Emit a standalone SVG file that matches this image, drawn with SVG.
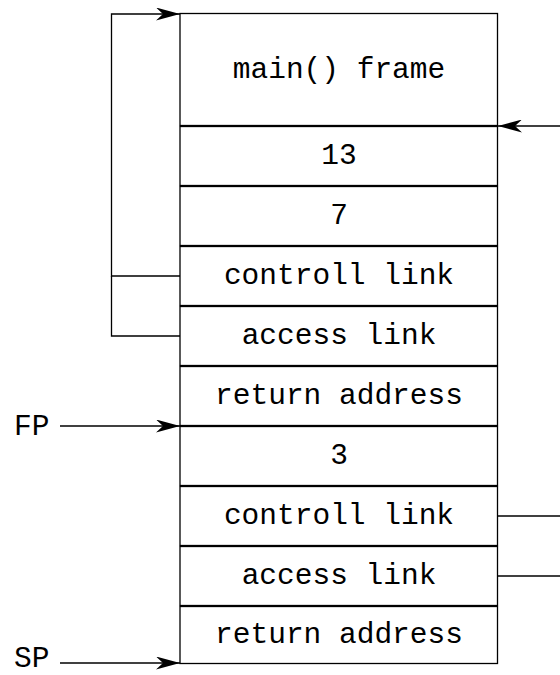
<svg xmlns="http://www.w3.org/2000/svg" width="560" height="675" viewBox="0 0 560 675">
<style>
.box{fill:#fff;stroke:#000;stroke-width:1.3}
.t{font-family:"Liberation Mono","Courier New",monospace;font-size:29.5px;fill:#000;text-anchor:middle}
.l{font-family:"Liberation Mono","Courier New",monospace;font-size:29.5px;fill:#000}
.c{fill:none;stroke:#000;stroke-width:1.3}
</style>
<defs>
<marker id="ah" viewBox="0 0 24 13" refX="24" refY="6.5" markerWidth="24" markerHeight="13" markerUnits="userSpaceOnUse" orient="auto">
<path d="M0,0 L24,6.5 L0,13 L7,6.5 Z" fill="#000"/>
</marker>
</defs>
<rect width="560" height="675" fill="#fff"/>
<g id="n0"><rect class="box" x="180" y="13.5" width="317.5" height="112"/><text class="t" x="339" y="78">main() frame</text></g>
<g id="n1"><rect class="box" x="180" y="126.5" width="317.5" height="59"/><text class="t" x="339" y="164">13</text></g>
<g id="n2"><rect class="box" x="180" y="186.5" width="317.5" height="59"/><text class="t" x="339" y="224">7</text></g>
<g id="n3"><rect class="box" x="180" y="246.5" width="317.5" height="59"/><text class="t" x="339" y="284">controll link</text></g>
<g id="n4"><rect class="box" x="180" y="306.5" width="317.5" height="59"/><text class="t" x="339" y="344">access link</text></g>
<g id="n5"><rect class="box" x="180" y="366.5" width="317.5" height="59"/><text class="t" x="339" y="404">return address</text></g>
<g id="n6"><rect class="box" x="180" y="426.5" width="317.5" height="59"/><text class="t" x="339" y="464">3</text></g>
<g id="n7"><rect class="box" x="180" y="486.5" width="317.5" height="59"/><text class="t" x="339" y="524">controll link</text></g>
<g id="n8"><rect class="box" x="180" y="546.5" width="317.5" height="59"/><text class="t" x="339" y="584">access link</text></g>
<g id="n9"><rect class="box" x="180" y="606.5" width="317.5" height="57"/><text class="t" x="339" y="643">return address</text></g>
<g id="fp"><text class="l" x="14" y="435">FP</text></g>
<g id="sp"><text class="l" x="14" y="667">SP</text></g>
<g id="connectors">
<path class="c" d="M180,276 H111.5 V14 H180" marker-end="url(#ah)"/>
<path class="c" d="M180,336 H111.5 V276"/>
<path class="c" d="M560,126 H498" marker-end="url(#ah)"/>
<path class="c" d="M497.5,516 H560"/>
<path class="c" d="M497.5,576 H560"/>
<path class="c" d="M60,426 H180" marker-end="url(#ah)"/>
<path class="c" d="M60,663 H180" marker-end="url(#ah)"/>
</g>
</svg>
